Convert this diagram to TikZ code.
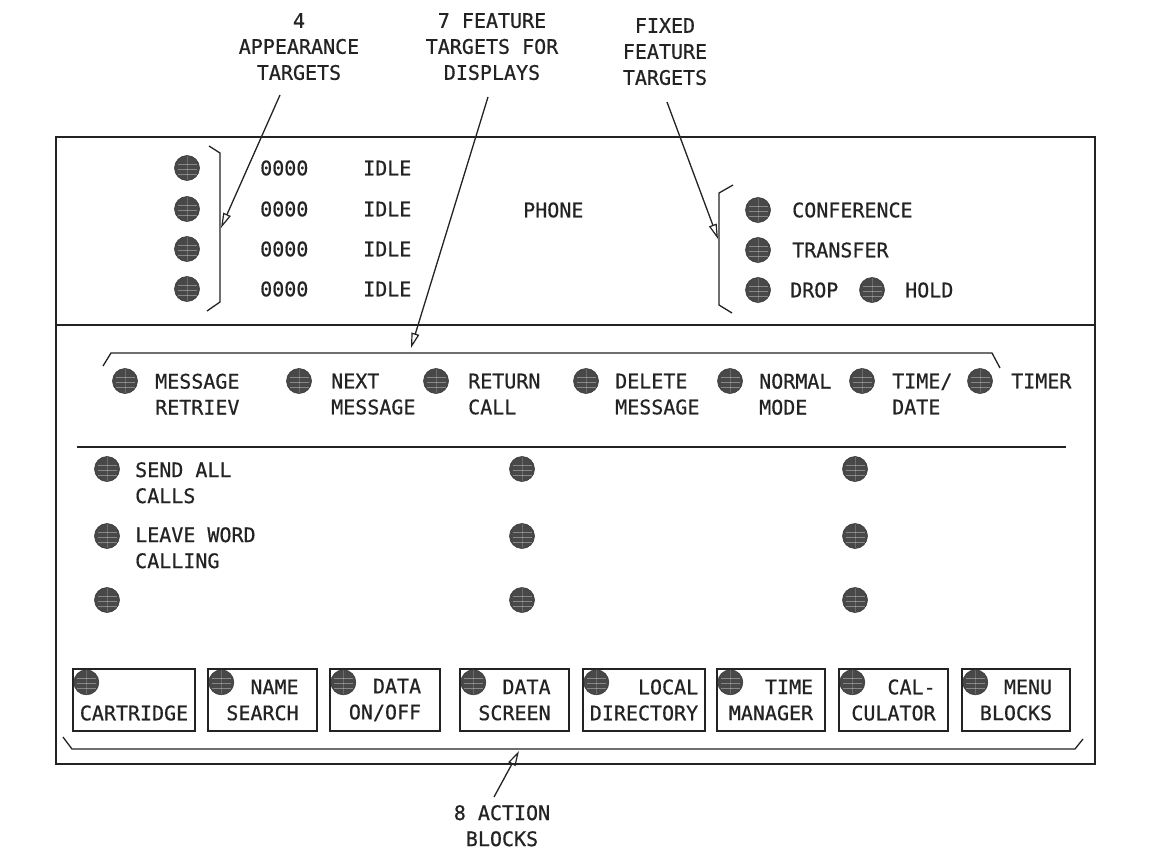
\documentclass[tikz,border=0pt]{standalone}
\usepackage{fontspec}
\newfontfamily\plotfont[FakeBold=0.6]{DejaVu Sans Mono}
\usetikzlibrary{arrows.meta}
\definecolor{ink}{RGB}{35,35,35}
\definecolor{btngray}{RGB}{72,72,72}
\begin{document}
\begin{tikzpicture}[x=1pt,y=-1pt,
  every node/.style={font=\plotfont\fontsize{20}{26}\selectfont, text=ink, inner sep=0pt},
  txt/.style={anchor=west},
  mtxt/.style={anchor=north west, align=left},
  toplbl/.style={anchor=north, align=center},
  btn/.style={circle, fill=btngray, draw=btngray!80!black, line width=0.6pt, minimum size=25pt,
    path picture={\foreach \k in {-6,-1,4}
      \draw[white, opacity=0.35, line width=0.8pt]
        ([yshift=\k pt, xshift=3pt]path picture bounding box.west) -- ([yshift=\k pt, xshift=-3pt]path picture bounding box.east);
      \draw[white, opacity=0.2, line width=0.8pt] (path picture bounding box.north) -- (path picture bounding box.south);}},
  actbox/.style={draw=ink, line width=1.3pt, minimum height=62pt, align=right},
  rule/.style={draw=ink, line width=1.3pt},
  arr/.style={draw=ink, line width=1.3pt, -{Triangle[open,length=15pt,width=8pt,line width=1.2pt]}}
]
\useasboundingbox (0,0) rectangle (1152,851);
\fill[white] (0,0) rectangle (1152,851);

% main frame and rules
\draw[rule] (56,137) rectangle (1095,764);
\draw[rule] (56,325) -- (1095,325);
\draw[rule] (77,447) -- (1066,447);

% top labels
\node[toplbl] (lbl4) at (299,13) {4\\APPEARANCE\\TARGETS};
\node[toplbl] (lbl7) at (492,13) {7 FEATURE\\TARGETS FOR\\DISPLAYS};
\node[toplbl] (lblf) at (665,18) {FIXED\\FEATURE\\TARGETS};

% appearance targets
\node[btn] (a1) at (187,168) {};
\node[btn] (a2) at (187,209) {};
\node[btn] (a3) at (187,249) {};
\node[btn] (a4) at (187,289) {};
\foreach \y/\n in {168/1,209/2,249/3,289/4}{
  \node[txt] (num\n) at (260,\y) {0000};
  \node[txt] (idle\n) at (363,\y) {IDLE};
}
\draw[rule] (209,146) -- (220,153) -- (220,302) -- (207,311);

\node[txt] (phone) at (523,210) {PHONE};

% fixed feature targets
\draw[rule] (733,185) -- (719,193) -- (719,305) -- (732,313);
\node[btn] (f1) at (758,210) {};
\node[btn] (f2) at (758,250) {};
\node[btn] (f3) at (758,290) {};
\node[btn] (f4) at (872,290) {};
\node[txt] (conf) at (792,210) {CONFERENCE};
\node[txt] (transf) at (792,250) {TRANSFER};
\node[txt] (drop) at (790,290) {DROP};
\node[txt] (hold) at (905,290) {HOLD};

% feature targets for displays
\draw[rule] (103,366) -- (111,353) -- (992,353) -- (1000,368);
\node[btn] (p1) at (125,381) {};
\node[btn] (p2) at (299,381) {};
\node[btn] (p3) at (436,381) {};
\node[btn] (p4) at (586,381) {};
\node[btn] (p5) at (730,381) {};
\node[btn] (p6) at (862,381) {};
\node[btn] (p7) at (980,381) {};
\node[mtxt] (t1) at (155,373.5) {MESSAGE\\RETRIEV};
\node[mtxt] (t2) at (331,373.5) {NEXT\\MESSAGE};
\node[mtxt] (t3) at (468,373.5) {RETURN\\CALL};
\node[mtxt] (t4) at (615,373.5) {DELETE\\MESSAGE};
\node[mtxt] (t5) at (759,373.5) {NORMAL\\MODE};
\node[mtxt] (t6) at (892,373.5) {TIME/\\DATE};
\node[txt] (t7) at (1011,381) {TIMER};

% lower targets
\foreach \x/\c in {107/l,522/m,855/r}{
  \node[btn] (\c1) at (\x,469) {};
  \node[btn] (\c2) at (\x,536) {};
  \node[btn] (\c3) at (\x,600) {};
}
\node[mtxt] (sac) at (135,462) {SEND ALL\\CALLS};
\node[mtxt] (lwc) at (135,527) {LEAVE WORD\\CALLING};

% action blocks
\node[actbox, minimum width=122pt, align=center] (b1) at (134,700) {\phantom{C}\\CARTRIDGE};
\node[actbox, minimum width=109pt] (b2) at (262.5,700) {NAME\\SEARCH};
\node[actbox, minimum width=110pt] (b3) at (385,700) {DATA\\ON/OFF};
\node[actbox, minimum width=109pt] (b4) at (514.5,700) {DATA\\SCREEN};
\node[actbox, minimum width=122pt] (b5) at (644,700) {LOCAL\\DIRECTORY};
\node[actbox, minimum width=108pt] (b6) at (771,700) {TIME\\MANAGER};
\node[actbox, minimum width=109pt] (b7) at (893.5,700) {CAL-\\CULATOR};
\node[actbox, minimum width=108pt] (b8) at (1016,700) {MENU\\BLOCKS};
\foreach \b in {1,...,8}{
  \node[btn] (bb\b) at ([xshift=14pt,yshift=-14pt]b\b.north west) {};
}
\draw[rule] (63,737) -- (72,749) -- (1075,749) -- (1083,739);
\node[toplbl] (lbl8) at (502,805) {8 ACTION\\BLOCKS};

% pointer arrows
\coordinate (a4tail) at (280,95);
\coordinate (a4tip) at (221,228);
\coordinate (f7tail) at (488,97);
\coordinate (f7tip) at (411,348);
\coordinate (fftail) at (667,102);
\coordinate (fftip) at (718,239);
\coordinate (b8tail) at (494,797);
\coordinate (b8tip) at (519,751);
\draw[arr] (a4tail) -- (a4tip);
\draw[arr] (f7tail) -- (f7tip);
\draw[arr] (fftail) -- (fftip);
\draw[arr] (b8tail) -- (b8tip);
\end{tikzpicture}
\end{document}
